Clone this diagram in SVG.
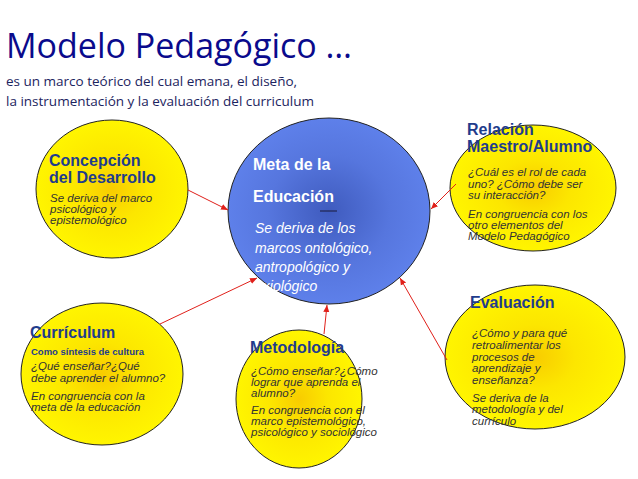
<svg xmlns="http://www.w3.org/2000/svg" width="638" height="479" viewBox="0 0 638 479">
<defs>
<radialGradient id="yel" cx="50%" cy="50%" r="50%">
<stop offset="0" stop-color="#F8CC00"/>
<stop offset="0.45" stop-color="#FCE600"/>
<stop offset="1" stop-color="#FFF500"/>
</radialGradient>
<radialGradient id="blu" cx="50%" cy="50%" r="50%">
<stop offset="0" stop-color="#3F5BBE"/>
<stop offset="0.6" stop-color="#5676DE"/>
<stop offset="1" stop-color="#5E80EA"/>
</radialGradient>
<marker id="ah" markerWidth="8" markerHeight="8" refX="7" refY="4" orient="auto" markerUnits="userSpaceOnUse">
<path d="M0,1 L7,4 L0,7 z" fill="#E0201A"/>
</marker>
</defs>
<style>
.title{font-family:"Open Sans","Liberation Sans",sans-serif;fill:#0A0A8C}
.sub{font-family:"Open Sans","Liberation Sans",sans-serif;font-size:13.5px;fill:#1C2460}
.y{fill:url(#yel);stroke:#222;stroke-width:1}
.h{font-family:"Liberation Sans",Arial,sans-serif;font-weight:bold;font-size:16px;fill:#1F3C8C}
.t{font-family:"Liberation Sans",Arial,sans-serif;font-style:italic;font-size:11.5px;fill:#333}
.w{font-family:"Liberation Sans",Arial,sans-serif;fill:#fff}
.c{stroke:#E0201A;stroke-width:1;fill:none;marker-end:url(#ah)}
</style>
<rect width="638" height="479" fill="#fff"/>
<text class="title" x="6" y="58" font-size="34">Modelo Pedagógico …</text>
<text class="sub" x="6" y="86">es un marco teórico del cual emana, el diseño,</text>
<text class="sub" x="6" y="106">la instrumentación y la evaluación del curriculum</text>

<g id="concepcion">
<ellipse class="y" cx="112" cy="189" rx="76" ry="69"/>
<text class="h" x="49" y="166">Concepción</text>
<text class="h" x="49" y="183">del Desarrollo</text>
<text class="t" x="50" y="202">Se deriva del marco</text>
<text class="t" x="50" y="213">psicológico y</text>
<text class="t" x="50" y="224">epistemológico</text>
</g>

<g id="meta">
<ellipse cx="329" cy="211" rx="101" ry="93" fill="url(#blu)" stroke="#222" stroke-width="1"/>
<text class="w" x="253" y="170" font-size="16" font-weight="bold">Meta de la</text>
<text class="w" x="253" y="202" font-size="16" font-weight="bold">Educación</text>
<line x1="320" y1="211" x2="337" y2="211" stroke="#1a1a3a" stroke-width="1"/>
<text class="w" x="255" y="233" font-size="14" font-style="italic">Se deriva de los</text>
<text class="w" x="255" y="253" font-size="14" font-style="italic">marcos ontológico,</text>
<text class="w" x="255" y="272" font-size="14" font-style="italic">antropológico y</text>
<text class="w" x="255" y="291" font-size="14" font-style="italic">axiológico</text>
</g>

<g id="relacion">
<ellipse class="y" cx="533" cy="188" rx="83" ry="63"/>
<text class="h" x="467" y="135">Relación</text>
<text class="h" x="467" y="152">Maestro/Alumno</text>
<text class="t" x="468" y="176">¿Cuál es el rol de cada</text>
<text class="t" x="468" y="188">uno? ¿Cómo debe ser</text>
<text class="t" x="468" y="199">su interacción?</text>
<text class="t" x="468" y="218">En congruencia con los</text>
<text class="t" x="468" y="229">otro elementos del</text>
<text class="t" x="468" y="240">Modelo Pedagógico</text>
</g>

<g id="evaluacion">
<ellipse class="y" cx="535" cy="357" rx="90" ry="72"/>
<text class="h" x="470" y="308">Evaluación</text>
<text class="t" x="472" y="337">¿Cómo y para qué</text>
<text class="t" x="472" y="349">retroalimentar los</text>
<text class="t" x="472" y="361">procesos de</text>
<text class="t" x="472" y="372">aprendizaje y</text>
<text class="t" x="472" y="384">enseñanza?</text>
<text class="t" x="472" y="402">Se deriva de la</text>
<text class="t" x="472" y="413">metodología y del</text>
<text class="t" x="472" y="425">currículo</text>
</g>

<g id="curriculum">
<ellipse class="y" cx="102" cy="374" rx="81" ry="71"/>
<text class="h" x="30" y="338">Currículum</text>
<text x="31" y="355" font-family="Liberation Sans,Arial,sans-serif" font-weight="bold" font-size="9.5" fill="#1F3C8C">Como síntesis de cultura</text>
<text class="t" x="31" y="370">¿Qué enseñar?¿Qué</text>
<text class="t" x="31" y="382">debe aprender el alumno?</text>
<text class="t" x="31" y="400">En congruencia con la</text>
<text class="t" x="31" y="411">meta de la educación</text>
</g>

<g id="metodologia">
<ellipse class="y" cx="299" cy="399" rx="63" ry="69"/>
<text class="h" x="250" y="353">Metodología</text>
<text class="t" x="251" y="375">¿Cómo enseñar?¿Cómo</text>
<text class="t" x="251" y="386">lograr que aprenda el</text>
<text class="t" x="251" y="397">alumno?</text>
<text class="t" x="251" y="414">En congruencia con el</text>
<text class="t" x="251" y="425">marco epistemológico,</text>
<text class="t" x="251" y="436">psicológico y sociológico</text>
</g>

<g id="connectors">
<line class="c" x1="188" y1="190" x2="228" y2="210"/>
<line class="c" x1="456" y1="184" x2="431" y2="209"/>
<line class="c" x1="160" y1="324" x2="257" y2="278"/>
<line class="c" x1="324" y1="334" x2="327" y2="305"/>
<line class="c" x1="447" y1="360" x2="400" y2="278"/>
</g>
</svg>
